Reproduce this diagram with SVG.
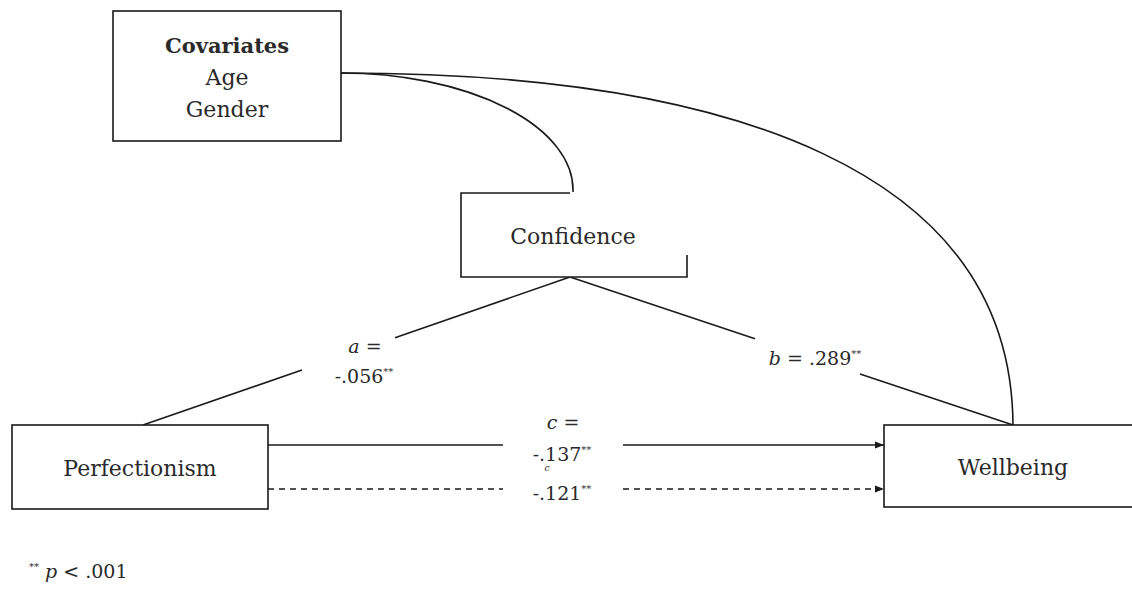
<svg xmlns="http://www.w3.org/2000/svg" width="1132" height="596" viewBox="0 0 1132 596">
<style>
.box{fill:#fff;stroke:#1a1a1a;stroke-width:1.6}
.ln{fill:none;stroke:#1a1a1a;stroke-width:1.6}
.t{font-family:"DejaVu Serif","Liberation Serif",serif;fill:#2a2a2a;text-anchor:middle}
.st{text-anchor:start}
.n{font-size:22px}
.lab{font-size:19px}
.sup{font-size:10px}
</style>
<defs>
<marker id="ah" viewBox="0 0 10 10" refX="10" refY="5" markerWidth="10" markerHeight="9" markerUnits="userSpaceOnUse" orient="auto">
<path d="M0,1 L10,5 L0,9 z" fill="#1a1a1a"/>
</marker>
</defs>
<rect width="1132" height="596" fill="#fff"/>
<g id="connectors">
<path class="ln" d="M341,73 A232,117 0 0 1 573,192"/>
<path class="ln" d="M341,73 C730,73 1013,170 1013,427"/>
<line class="ln" x1="143" y1="425" x2="302" y2="370"/>
<line class="ln" x1="395" y1="337.7" x2="570" y2="277"/>
<line class="ln" x1="570" y1="277" x2="755" y2="338.8"/>
<line class="ln" x1="860" y1="374" x2="1013" y2="425"/>
<line class="ln" x1="268" y1="445" x2="503" y2="445"/>
<line class="ln" x1="623" y1="445" x2="884" y2="445" marker-end="url(#ah)"/>
<line class="ln" x1="268" y1="489" x2="503" y2="489" stroke-dasharray="6,5"/>
<line class="ln" x1="623" y1="489" x2="884" y2="489" stroke-dasharray="6,5" marker-end="url(#ah)"/>
</g>
<g id="covariates">
<rect class="box" x="113" y="11" width="228" height="130"/>
<text class="t n" x="227" y="53" font-weight="bold" style="font-size:21px">Covariates</text>
<text class="t n" x="227" y="85">Age</text>
<text class="t n" x="227" y="117">Gender</text>
</g>
<g id="confidence">
<path fill="#fff" d="M461,193 H570 L687,255 V277 H461 Z"/>
<path class="ln" d="M570,193 H461 V277 H687 V255"/>
<text class="t n" x="573" y="244">Confidence</text>
</g>
<g id="perfectionism">
<rect class="box" x="12" y="425" width="256" height="84"/>
<text class="t n" x="140" y="476">Perfectionism</text>
</g>
<g id="wellbeing">
<rect class="box" x="884" y="425" width="260" height="82"/>
<text class="t n" x="1013" y="475">Wellbeing</text>
</g>
<g id="labels">
<text class="t lab" x="365" y="353"><tspan font-style="italic">a</tspan> =</text>
<text class="t lab" x="364" y="383">-.056<tspan class="sup" dy="-8">**</tspan></text>
<text class="t lab" x="815" y="365"><tspan font-style="italic">b</tspan> = .289<tspan class="sup" dy="-8">**</tspan></text>
<text class="t lab" x="563" y="429"><tspan font-style="italic">c</tspan> =</text>
<text class="t lab" x="562" y="461">-.137<tspan class="sup" dy="-8">**</tspan></text>
<text class="t" x="547" y="471" style="font-size:9px" font-style="italic">c</text>
<text class="t lab" x="562" y="500">-.121<tspan class="sup" dy="-8">**</tspan></text>
<text class="t lab st" x="29" y="578"><tspan class="sup" dy="-8">**</tspan><tspan dy="8" font-style="italic"> p</tspan> &lt; .001</text>
</g>
</svg>
